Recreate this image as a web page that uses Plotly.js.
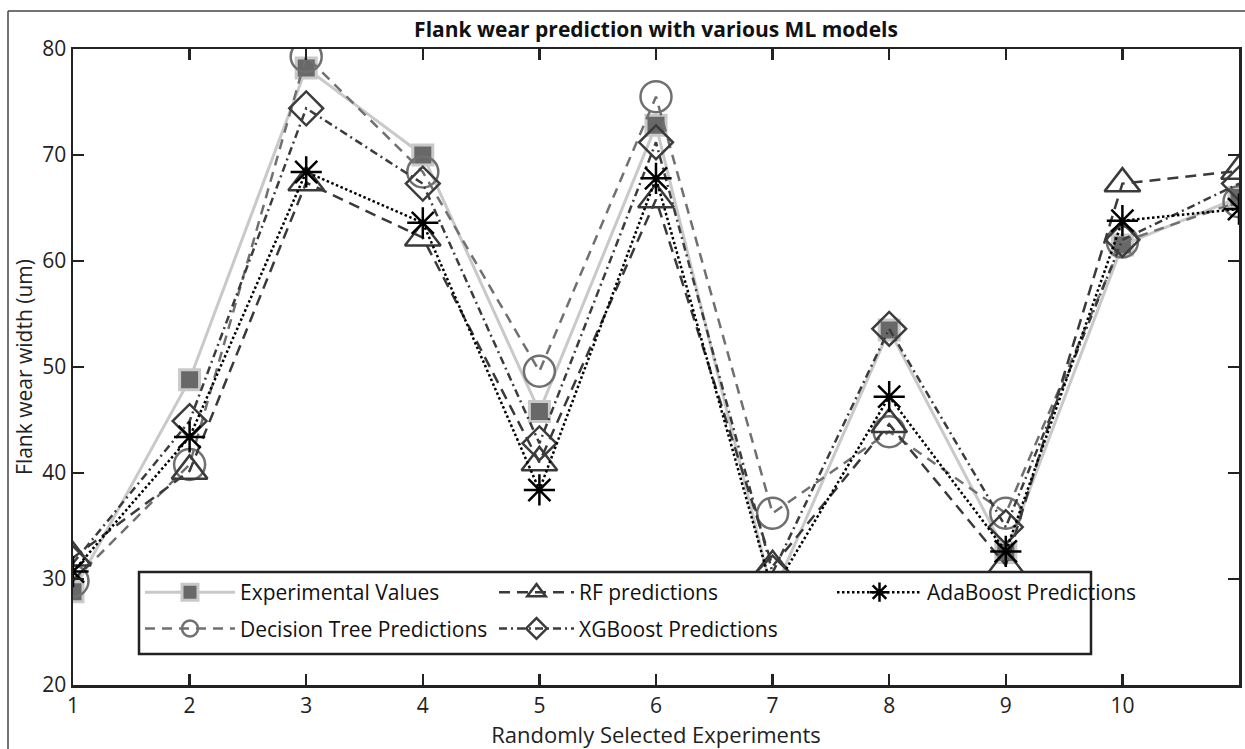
<!DOCTYPE html>
<html>
<head>
<meta charset="utf-8">
<script src="https://cdn.plot.ly/plotly-3.0.1.min.js"></script>
<style>
  html, body { margin: 0; padding: 0; background: #fff; }
  #chart { width: 1245px; height: 749px; }
</style>
</head>
<body>
<div id="chart"></div>
<script>
// ---- data ----
const experiments = [1, 2, 3, 4, 5, 6, 7, 8, 9, 10, 11];
const experimentalValues = [28.8, 48.8, 78.2, 70.0, 45.8, 72.8, 28.5, 53.5, 32.5, 61.5, 66.0];
const decisionTreePred   = [29.8, 40.8, 79.3, 68.4, 49.6, 75.5, 36.2, 43.9, 36.2, 61.8, 65.6];
const rfPred             = [32.0, 40.2, 67.4, 62.2, 41.0, 65.8, 31.2, 44.6, 31.3, 67.3, 68.5];
const xgboostPred        = [31.5, 44.9, 74.4, 67.3, 42.8, 71.2, 30.6, 53.6, 34.9, 62.0, 67.3];
const adaboostPred       = [30.7, 43.4, 68.4, 63.6, 38.4, 67.8, 28.8, 47.2, 32.6, 63.8, 64.9];
const seriesNames = ["Experimental Values", "Decision Tree Predictions", "RF predictions",
                     "XGBoost Predictions", "AdaBoost Predictions"];
const xTicks = [1, 2, 3, 4, 5, 6, 7, 8, 9, 10, 11];
const yTicks = [20, 30, 40, 50, 60, 70, 80];

const FONT = "'Open Sans', 'Noto Sans', sans-serif";

const traces = [
  {
    x: experiments, y: experimentalValues, name: seriesNames[0], legend: "legend",
    legendgroup: "g1", mode: "lines+markers",
    line: { color: "#c9c9c9", width: 3 },
    marker: { symbol: "square", size: 20, color: "#686868", line: { color: "#c9c9c9", width: 3 } }
  },
  {
    x: experiments, y: decisionTreePred, name: seriesNames[1], legend: "legend",
    legendgroup: "g2", mode: "lines+markers",
    line: { color: "#707070", width: 2.5, dash: "10px,7px" },
    marker: { symbol: "circle-open", size: 31, color: "#707070", line: { color: "#707070", width: 2.5 } }
  },
  {
    x: experiments, y: rfPred, name: seriesNames[2], legend: "legend2",
    legendgroup: "g3", mode: "lines+markers",
    line: { color: "#3a3a3a", width: 2.5, dash: "11px,7px" },
    marker: { symbol: "triangle-up-open", size: 31, color: "#3a3a3a", line: { color: "#3a3a3a", width: 2.5 } }
  },
  {
    x: experiments, y: xgboostPred, name: seriesNames[3], legend: "legend2",
    legendgroup: "g4", mode: "lines+markers",
    line: { color: "#3c3c3c", width: 2.5, dash: "8px,4px,2px,4px" },
    marker: { symbol: "diamond-open", size: 26, color: "#3c3c3c", line: { color: "#3c3c3c", width: 2.5 } }
  },
  {
    x: experiments, y: adaboostPred, name: seriesNames[4], legend: "legend3",
    legendgroup: "g5", mode: "lines+markers",
    line: { color: "#000000", width: 2.5, dash: "2.5px,2.5px" },
    marker: { symbol: "asterisk-open", size: 26, color: "#000000", line: { color: "#000000", width: 2.5 } }
  }
];

const plotL = 73, plotR = 1239, plotT = 49, plotB = 685;
const pw = plotR - plotL, ph = plotB - plotT;
const px = v => (v - plotL) / pw;
const py = v => (plotB - v) / ph;

const legendCommon = {
  orientation: "v", bgcolor: "rgba(0,0,0,0)", borderwidth: 0,
  font: { family: FONT, size: 21, color: "#111" },
  xanchor: "left", yanchor: "top", tracegroupgap: 6, itemwidth: 90
};

const layout = {
  width: 1245, height: 749,
  margin: { l: plotL, r: 1245 - plotR, t: plotT, b: 749 - plotB },
  paper_bgcolor: "#ffffff", plot_bgcolor: "#ffffff",
  font: { family: FONT, color: "#222" },
  title: {
    text: "<b>Flank wear prediction with various ML models</b>",
    font: { family: FONT, size: 21, color: "#111" },
    x: 0.5, xref: "paper", xanchor: "center", y: 1 - 30 / 749, yanchor: "middle"
  },
  xaxis: {
    range: [1, 11], tickvals: xTicks, ticktext: xTicks.map(String),
    showgrid: false, zeroline: false, showline: true, linecolor: "#222", linewidth: 2.5,
    mirror: "ticks", ticks: "inside", ticklen: 11, tickwidth: 2.5, tickcolor: "#222",
    tickfont: { family: FONT, size: 21, color: "#222" },
    title: { text: "Randomly Selected Experiments", font: { family: FONT, size: 22, color: "#222" }, standoff: 8 }
  },
  yaxis: {
    range: [20, 80], tickvals: yTicks, ticktext: yTicks.map(String),
    showgrid: false, zeroline: false, showline: true, linecolor: "#222", linewidth: 2.5,
    mirror: "ticks", ticks: "inside", ticklen: 11, tickwidth: 2.5, tickcolor: "#222",
    tickfont: { family: FONT, size: 21, color: "#222" },
    title: { text: "Flank wear width (um)", font: { family: FONT, size: 21, color: "#222" }, standoff: 4 }
  },
  showlegend: true,
  legend:  Object.assign({}, legendCommon, { x: px(140), y: py(572), itemwidth: 90 }),
  legend2: Object.assign({}, legendCommon, { x: px(494), y: py(572), itemwidth: 75 }),
  legend3: Object.assign({}, legendCommon, { x: px(832), y: py(572), itemwidth: 85 }),
  shapes: [
    { type: "rect", xref: "paper", yref: "paper", layer: "above",
      x0: px(139), x1: px(1091), y0: py(654), y1: py(572),
      fillcolor: "#ffffff", line: { color: "#222", width: 2.5 } },
    { type: "line", xref: "paper", yref: "paper", layer: "above",
      x0: px(8), x1: px(1250), y0: py(11), y1: py(11), line: { color: "#444", width: 1.5 } },
    { type: "line", xref: "paper", yref: "paper", layer: "above",
      x0: px(8), x1: px(8), y0: py(11), y1: py(760), line: { color: "#444", width: 1.5 } }
  ]
};

Plotly.newPlot("chart", traces, layout, { staticPlot: true, displayModeBar: false });
</script>
</body>
</html>
